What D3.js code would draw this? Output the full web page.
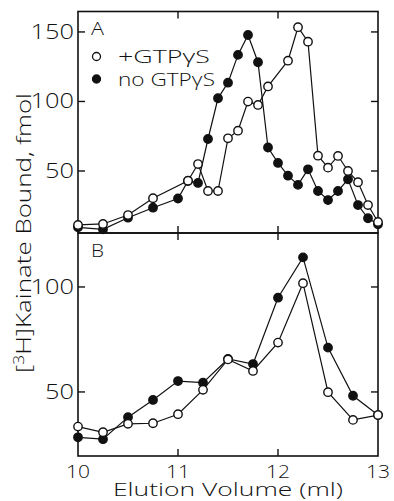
<!DOCTYPE html>
<html>
<head>
<meta charset="utf-8">
<script src="https://cdn.jsdelivr.net/npm/d3@7"></script>
<style>
  body { margin: 0; background: #fff; }
  svg { display: block; }
  text { font-family: "Open Sans", "Liberation Sans", Arial, sans-serif; font-weight: 300; fill: #111; }
</style>
</head>
<body>
<svg id="chart"></svg>
<script>
// panel A: elution of [3H]kainate binding
const xOpenA = [10, 10.25, 10.5, 10.75, 11.1, 11.2, 11.3, 11.4, 11.5, 11.6, 11.7, 11.8, 11.9, 12.1, 12.2, 12.3, 12.4, 12.5, 12.6, 12.7, 12.8, 12.9, 13];
const openA  = [11.2, 11.9, 18.3, 30.4, 43, 55, 35.6, 35.6, 73.5, 79, 99.9, 97.5, 110.8, 129.3, 153.4, 143, 61, 52.4, 60.8, 50, 41.9, 25.5, 13.3];
const xFilledA = [10, 10.25, 10.5, 10.75, 11, 11.1, 11.2, 11.3, 11.4, 11.5, 11.6, 11.7, 11.8, 11.9, 12, 12.1, 12.2, 12.3, 12.4, 12.5, 12.6, 12.7, 12.8, 12.9, 13];
const filledA  = [9.5, 8.0, 16.4, 23.6, 30.2, 42.8, 41.4, 73, 102.3, 113.5, 133.5, 147.8, 128.2, 66.9, 55.8, 46.6, 40, 51.2, 35.6, 29.1, 35.6, 44, 25.5, 16, 11.7];

// panel B
const xB = [10, 10.25, 10.5, 10.75, 11, 11.25, 11.5, 11.75, 12, 12.25, 12.5, 12.75, 13];
const openB   = [33.5, 30.8, 34.8, 35.1, 39.4, 51, 65.5, 60, 73.5, 101.8, 49.9, 36.7, 39];
const filledB = [28.4, 27.5, 38, 46.2, 55.2, 54.4, 65.7, 63.3, 94.9, 114.1, 71.1, 48.2, 39];

const xTicks = [10, 11, 12, 13];
const yTicksA = [50, 100, 150];
const yTicksB = [50, 100];
const legendLabels = ["+GTP\u03B3S", "no  GTP\u03B3S"];

const W = 394, H = 501;
const left = 78, right = 378, topA = 11.5, midY = 233, botB = 456;
const tickLen = 7;

const svg = d3.select("#chart").attr("width", W).attr("height", H);

const x = d3.scaleLinear().domain([10, 13]).range([left, right]);
const yA = d3.scaleLinear().domain([5.4, 164.7]).range([midY, topA]);
const yB = d3.scaleLinear().domain([19.5, 125.7]).range([botB, midY]);

// printed type is wider than the screen fonts: stretch each label to its printed width
function wideText(g, tx, ty, str, size, anchor, width) {
  const t = g.append("text")
    .attr("x", tx).attr("y", ty)
    .attr("text-anchor", anchor)
    .style("font-size", size + "px")
    .text(str);
  if (width) t.attr("textLength", width).attr("lengthAdjust", "spacingAndGlyphs");
  return t;
}

function panel(y, yTicks, series, label) {
  const g = svg.append("g");
  const [y0, y1] = y.range();

  // ticks, all pointing inward
  xTicks.slice(1, -1).forEach(v => {
    g.append("line").attr("x1", x(v)).attr("x2", x(v)).attr("y1", y0).attr("y2", y0 - tickLen);
    g.append("line").attr("x1", x(v)).attr("x2", x(v)).attr("y1", y1).attr("y2", y1 + tickLen);
  });
  yTicks.forEach(v => {
    g.append("line").attr("x1", left).attr("x2", left + tickLen).attr("y1", y(v)).attr("y2", y(v));
    g.append("line").attr("x1", right).attr("x2", right - tickLen).attr("y1", y(v)).attr("y2", y(v));
    wideText(g, left - 4, y(v) + 7, v, 20, "end", String(v).length * 14.5);
  });
  g.selectAll("line").attr("stroke", "#111").attr("stroke-width", 1.4);

  g.append("rect")
    .attr("x", left).attr("y", y1)
    .attr("width", right - left).attr("height", y0 - y1)
    .attr("fill", "none").attr("stroke", "#111").attr("stroke-width", 1.6);

  const line = d3.line().x(d => x(d[0])).y(d => y(d[1]));

  series.forEach(s => {
    const pts = s.xs.map((v, i) => [v, s.ys[i]]);
    g.append("path").datum(pts)
      .attr("d", line)
      .attr("fill", "none").attr("stroke", "#111").attr("stroke-width", 1.2);
    g.selectAll(null).data(pts).join("circle")
      .attr("cx", d => x(d[0])).attr("cy", d => y(d[1]))
      .attr("r", 4.2)
      .attr("fill", s.filled ? "#111" : "#fff")
      .attr("stroke", "#111").attr("stroke-width", 1.4);
  });

  wideText(g, 91, y1 + 23.5, label, 18, "start", 13);
  return g;
}

// open series drawn last so its markers sit on top, as in the print
const gA = panel(yA, yTicksA, [
  { xs: xFilledA, ys: filledA, filled: true },
  { xs: xOpenA, ys: openA, filled: false }
], "A");
panel(yB, yTicksB, [
  { xs: xB, ys: filledB, filled: true },
  { xs: xB, ys: openB, filled: false }
], "B");

// legend in panel A
legendLabels.forEach((lab, i) => {
  const cy = 56.5 + i * 22.5;
  gA.append("circle").attr("cx", 96.5).attr("cy", cy).attr("r", 4)
    .attr("fill", i ? "#111" : "#fff").attr("stroke", "#111").attr("stroke-width", 1.3);
  wideText(gA, 118, cy + 6.5, lab, 18, "start", i ? 97 : 92);
});

// x tick labels and titles
xTicks.forEach(v => wideText(svg, x(v), 478, v, 18, "middle", 24));
wideText(svg, 113, 496, "Elution Volume  (ml)", 18, "start", 230);

const yl = svg.append("text")
  .attr("transform", "translate(31,373) rotate(-90)")
  .attr("textLength", 280).attr("lengthAdjust", "spacingAndGlyphs")
  .style("font-size", "21px");
yl.append("tspan").text("[");
yl.append("tspan").attr("dy", -7).style("font-size", "14px").text("3");
yl.append("tspan").attr("dy", 7).text("H]Kainate Bound,  fmol");
</script>
</body>
</html>
